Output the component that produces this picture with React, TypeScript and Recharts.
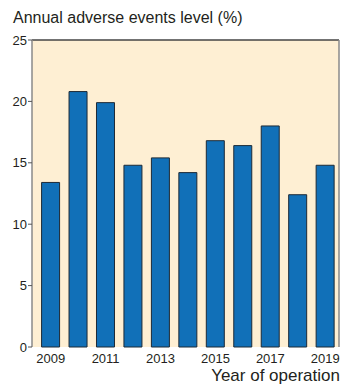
import React from 'react';
import { BarChart, Bar, XAxis, YAxis, CartesianGrid, ReferenceLine } from 'recharts';

const years = ['2009', '2010', '2011', '2012', '2013', '2014', '2015', '2016', '2017', '2018', '2019'];
const adverseLevel = [13.4, 20.8, 19.9, 14.8, 15.4, 14.2, 16.8, 16.4, 18.0, 12.4, 14.8];
const yTicks = [0, 5, 10, 15, 20, 25];

const data = years.map((year, i) => ({ year, value: adverseLevel[i] }));

const FONT = '"Liberation Sans", Arial, Helvetica, sans-serif';

export default function App() {
  return (
    <div style={{ position: 'absolute', left: 0, top: 0, width: 344, height: 384, background: '#fff', fontFamily: FONT }}>
      <div style={{ position: 'absolute', left: 13, top: 10, fontSize: 16, lineHeight: 1, color: '#231f20', whiteSpace: 'nowrap' }}>
        Annual adverse events level (%)
      </div>
      <BarChart
        width={344}
        height={384}
        data={data}
        margin={{ top: 40, right: 1, bottom: 17, left: 0 }}
        barCategoryGap="16.7%"
      >
        <CartesianGrid horizontal={false} vertical={false} fill="#feefd3" />
        <XAxis
          dataKey="year"
          interval={1}
          height={20}
          padding={{ left: 5, right: 0 }}
          axisLine={false}
          tickLine={false}
          tick={{ fontSize: 13, fill: '#231f20', fontFamily: FONT }}
          tickMargin={1}
        />
        <YAxis
          domain={[0, 25]}
          ticks={yTicks}
          width={32}
          axisLine={{ stroke: '#8a8a8a', strokeWidth: 1.5 }}
          tickLine={{ stroke: '#555' }}
          tickSize={4}
          tick={{ fontSize: 13, fill: '#231f20', fontFamily: FONT }}
          tickMargin={1}
        />
        <YAxis
          yAxisId="right"
          orientation="right"
          domain={[0, 25]}
          width={4}
          tick={false}
          tickLine={false}
          axisLine={{ stroke: '#8a8a8a', strokeWidth: 1.5 }}
        />
        <ReferenceLine y={25} stroke="#444" strokeWidth={1.5} />
        <Bar dataKey="value" fill="#1170b8" stroke="#1d2a36" strokeWidth={1} isAnimationActive={false} />
      </BarChart>
      <div style={{ position: 'absolute', right: 4, top: 367, fontSize: 17, lineHeight: 1, color: '#231f20', whiteSpace: 'nowrap' }}>
        Year of operation
      </div>
    </div>
  );
}
